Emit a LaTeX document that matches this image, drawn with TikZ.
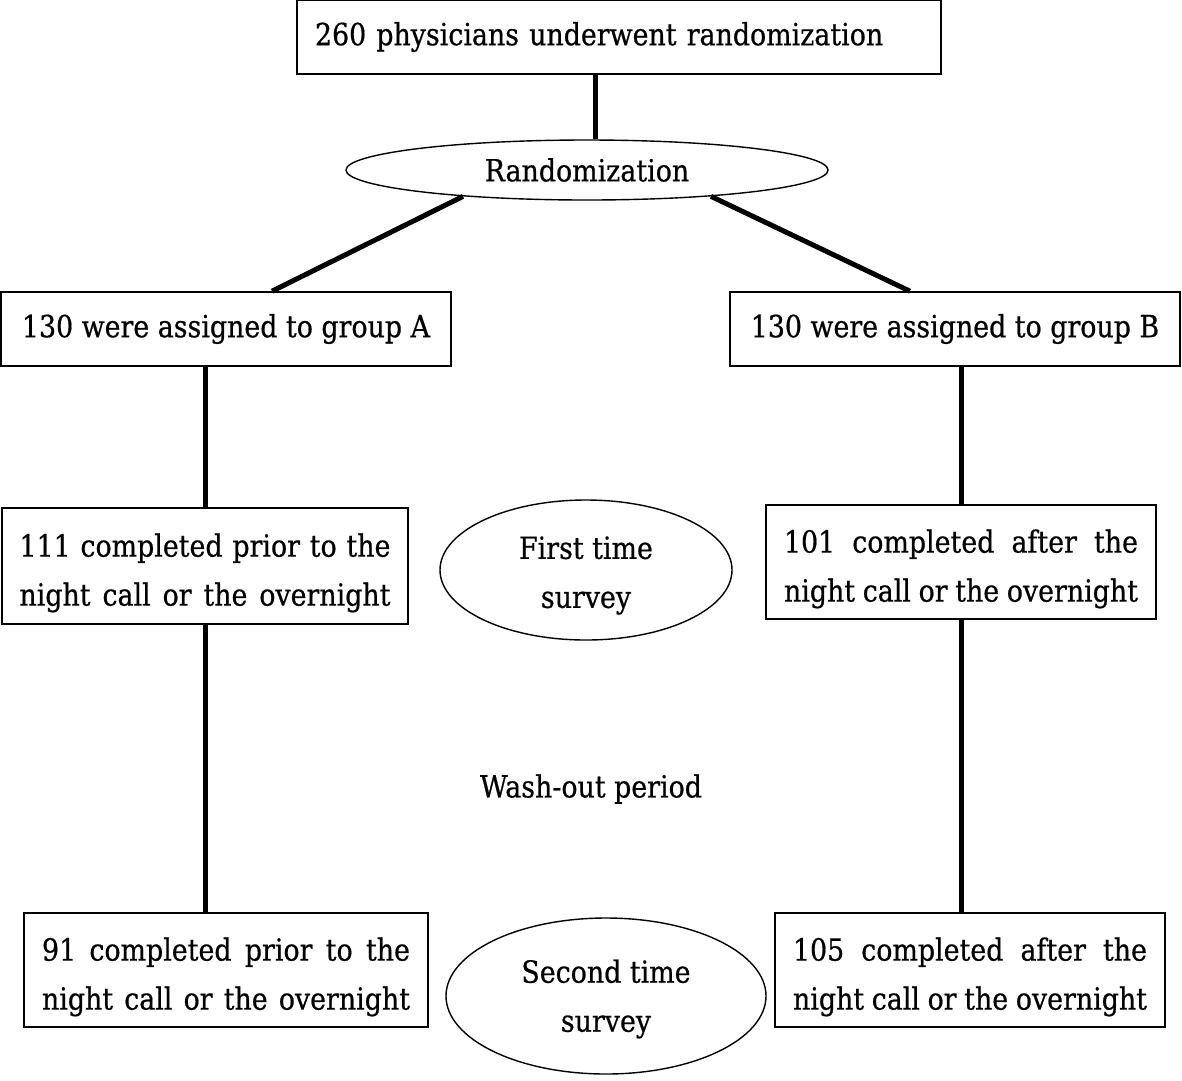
\documentclass[tikz,border=0pt]{standalone}
\usepackage{fontspec}
\setmainfont[FakeStretch=0.88,FakeBold=0.6]{DejaVu Serif}
\usetikzlibrary{shapes.geometric,calc}
\newcommand{\jline}[2]{\hbox to #1{#2}}
\newsavebox{\tlbox}
\newcommand{\twolines}[3]{\sbox{\tlbox}{\parbox{172pt}{\centering #2\\#3}}\raisebox{#1}[\ht\tlbox][\dp\tlbox]{\usebox{\tlbox}}}
\begin{document}
\begin{tikzpicture}[x=1pt,y=-1pt,
  txt/.style={font=\fontsize{30.5}{49}\selectfont},
  box/.style={draw,line width=1.6pt,rectangle,inner sep=0pt,txt,align=center},
  oval/.style={draw,line width=1.4pt,ellipse,inner sep=0pt,txt,align=center},
  conn/.style={line width=5pt}]
\useasboundingbox (0,0) rectangle (1182,1080);
\node[box,minimum width=644pt,minimum height=74pt,text width=608pt,align=left] (top) at (619,37) {\raisebox{-2pt}{260 physicians underwent randomization}};
\node[oval,minimum width=482pt,minimum height=60pt] (rand) at (587,170) {Randomization};
\node[box,minimum width=450pt,minimum height=74pt] (ga) at (226,329) {130 were assigned to group A};
\node[box,minimum width=450pt,minimum height=74pt] (gb) at (955,329) {130 were assigned to group B};
\node[box,minimum width=406pt,minimum height=116pt,text width=371pt,text depth=42pt] (a2) at (205,566)
  {\jline{371pt}{111\hfill completed\hfill prior\hfill to\hfill the}\\\jline{371pt}{night\hfill call\hfill or\hfill the\hfill overnight}};
\node[box,minimum width=390pt,minimum height=114pt,text width=354pt,text depth=42pt] (b2) at (961,562)
  {\jline{354pt}{101\hfill completed\hfill after\hfill the}\\\jline{354pt}{night\hfill call\hfill or\hfill the\hfill overnight}};
\node[oval,minimum width=292pt,minimum height=140pt] (first) at (586,570) {\twolines{-5.5pt}{First time}{survey}};
\node[txt] (wash) at (591,789) {Wash-out period};
\node[box,minimum width=404pt,minimum height=114pt,text width=368pt,text depth=42pt] (a3) at (226,970)
  {\jline{368pt}{91\hfill completed\hfill prior\hfill to\hfill the}\\\jline{368pt}{night\hfill call\hfill or\hfill the\hfill overnight}};
\node[oval,minimum width=320pt,minimum height=156pt] (second) at (606,996) {\twolines{-3pt}{Second time}{survey}};
\node[box,minimum width=390pt,minimum height=114pt,text width=354pt,text depth=42pt] (b3) at (970,970)
  {\jline{354pt}{105\hfill completed\hfill after\hfill the}\\\jline{354pt}{night\hfill call\hfill or\hfill the\hfill overnight}};
\draw[conn] ($(top.south)+(-24,0)$) -- ($(rand.north)+(8,0)$);
\draw[conn] (rand.192.5) -- ($(ga.north)+(46,0)$);
\draw[conn] (rand.348) -- ($(gb.north)+(-45,0)$);
\draw[conn] (a2.north) -- (a2.north |- ga.south);
\draw[conn] (b2.north) -- (b2.north |- gb.south);
\draw[conn] (a2.south) -- (a2.south |- a3.north);
\draw[conn] (b2.south) -- (b2.south |- b3.north);
\end{tikzpicture}
\end{document}
